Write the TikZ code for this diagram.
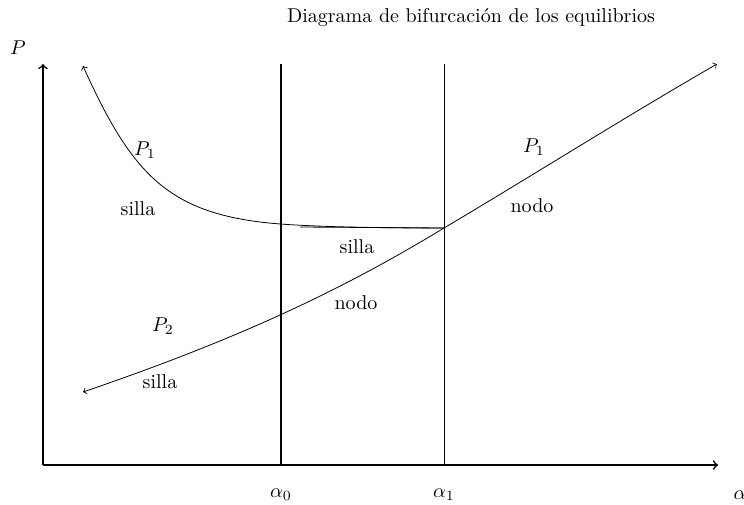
\documentclass[tikz,border=0pt]{standalone}
\begin{document}
\begin{tikzpicture}[x=0.5pt,y=-0.5pt,
  axis/.style={line width=0.8pt},
  curve/.style={line width=0.4pt},
  lbl/.style={inner sep=0pt}]
\useasboundingbox (0,0) rectangle (744,504);
% axes
\coordinate (O) at (43,465);
\coordinate (Ytop) at (43,64);
\coordinate (Xend) at (718,465);
\draw[axis,->] (O) -- (Ytop);
\draw[axis,->] (O) -- (Xend);
% vertical lines
\coordinate (a0b) at (281,465);
\coordinate (a0t) at (281,64);
\coordinate (a1b) at (444,465);
\coordinate (a1t) at (444,64);
\draw[line width=0.8pt] (a0b) -- (a0t);
\draw[line width=0.4pt] (a1b) -- (a1t);
% key points
\coordinate (uS) at (83,66);
\coordinate (uM) at (260,222);
\coordinate (X) at (444,228);
\coordinate (lS) at (83,392);
\coordinate (lE) at (717,64);
\coordinate (h0) at (300,227);
% upper curve P1
\draw[curve,<-] (uS) .. controls (130,170) and (165,210) .. (uM)
  .. controls (300,227) and (380,228) .. (X);
\draw[curve] (h0) -- (X);
% lower curve P2 / P1
\draw[curve,<->] (lS) .. controls (250,335) and (350,285) .. (X)
  .. controls (540,171) and (620,120) .. (lE);
% labels
\node[lbl] (title) at (471,18) {Diagrama de bifurcación de los equilibrios};
\node[lbl] (P) at (18,48) {$P$};
\node[lbl] (al0) at (281,495) {$\alpha_0$};
\node[lbl] (al1) at (444,495) {$\alpha_1$};
\node[lbl] (al) at (740,495) {$\alpha$};
\node[lbl] (p1a) at (145,150) {$P_1$};
\node[lbl] (s1) at (138,209) {silla};
\node[lbl] (p1b) at (534,147) {$P_1$};
\node[lbl] (n1) at (532,206) {nodo};
\node[lbl] (s2) at (357,247) {silla};
\node[lbl] (n2) at (356,303) {nodo};
\node[lbl] (p2) at (163,326) {$P_2$};
\node[lbl] (s3) at (160,382) {silla};
\end{tikzpicture}
\end{document}
